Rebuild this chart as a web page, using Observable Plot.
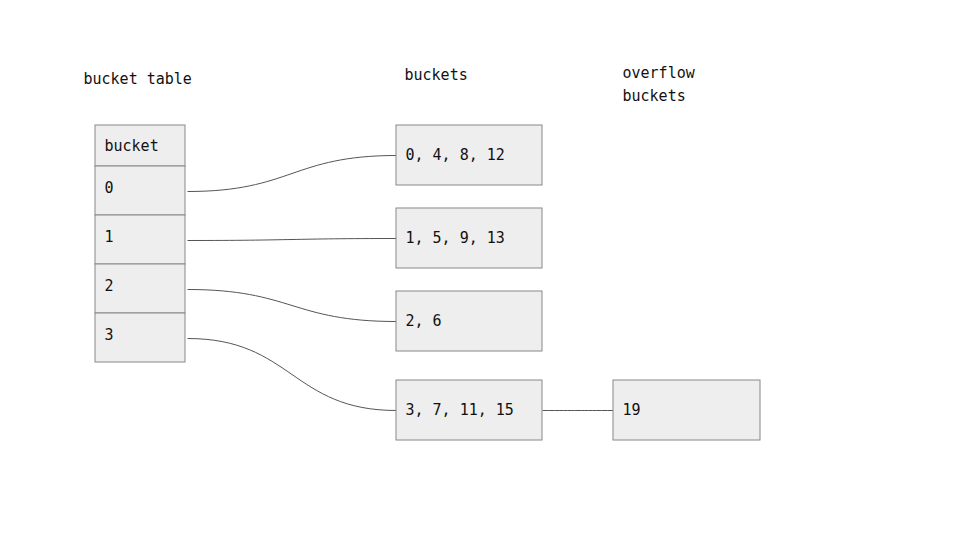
<!DOCTYPE html>
<html><head><meta charset="utf-8">
<script src="https://cdn.jsdelivr.net/npm/d3@7"></script>
<script src="https://cdn.jsdelivr.net/npm/@observablehq/plot@0.6"></script>
<style>body{margin:0;background:#fff}</style>
</head><body><div id="chart"></div>
<script>
const tableLabels = ["bucket", "0", "1", "2", "3"];
const bucketLabels = ["0, 4, 8, 12", "1, 5, 9, 13", "2, 6", "3, 7, 11, 15"];
const overflowLabels = ["19"];
const overflowOf = [3];
const titles = [
  {t: "bucket table", x: 83, y: 79},
  {t: "buckets", x: 404, y: 75},
  {t: "overflow", x: 622, y: 73},
  {t: "buckets", x: 622, y: 96}
];
// layout
const tableX = [95, 185], tableRowsY = [125, 166, 215, 264, 313, 362];
const bucketX = [396, 542], bucketY = [125, 208, 291, 380], bucketH = 60;
const overflowX = [613, 760];

const cells = tableLabels.map((l, i) => ({l, x1: tableX[0], x2: tableX[1], y1: tableRowsY[i], y2: tableRowsY[i+1], ty: i === 0 ? (tableRowsY[0]+tableRowsY[1])/2 : tableRowsY[i] + 22}));
const buckets = bucketLabels.map((l, i) => ({l, x1: bucketX[0], x2: bucketX[1], y1: bucketY[i], y2: bucketY[i] + bucketH, ty: bucketY[i] + bucketH/2}));
const overflow = overflowLabels.map((l, k) => ({l, x1: overflowX[0], x2: overflowX[1], y1: bucketY[overflowOf[k]], y2: bucketY[overflowOf[k]] + bucketH, ty: bucketY[overflowOf[k]] + bucketH/2}));
const boxes = [...cells, ...buckets, ...overflow];
const links = [
  ...bucketLabels.map((_, i) => ({x1: tableX[1] + 2, y1: cells[i+1].ty + 3, x2: bucketX[0], y2: buckets[i].ty})),
  ...overflow.map((o, k) => ({x1: bucketX[1], y1: o.ty, x2: overflowX[0], y2: o.ty}))
];
const font = "DejaVu Sans Mono";
const chart = Plot.plot({
  width: 960, height: 540, margin: 0,
  x: {domain: [0, 960], range: [0, 960], axis: null},
  y: {domain: [0, 540], range: [0, 540], axis: null},
  style: {fontFamily: font},
  marks: [
    Plot.link(links, {x1: "x1", y1: "y1", x2: "x2", y2: "y2", curve: "bump-x", stroke: "#555", strokeWidth: 1}),
    Plot.rect(boxes, {x1: "x1", x2: "x2", y1: "y1", y2: "y2", fill: "#eeeeee", stroke: "#888", strokeWidth: 1}),
    Plot.text(boxes, {x: d => d.x1 + 9, y: "ty", text: "l", textAnchor: "start", fontSize: 15, fill: "#111"}),
    Plot.text(titles, {x: "x", y: "y", text: "t", textAnchor: "start", fontSize: 15, fill: "#111"})
  ]
});
document.getElementById("chart").append(chart);
</script></body></html>
